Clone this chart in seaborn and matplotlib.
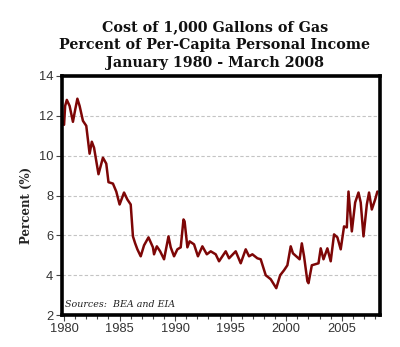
import matplotlib
matplotlib.use("Agg")
import matplotlib.pyplot as plt
import seaborn as sns
import pandas as pd
from matplotlib.ticker import MultipleLocator

years = [1980.0, 1980.1, 1980.25, 1980.5, 1980.8, 1981.0, 1981.2, 1981.4, 1981.7, 1982.0,
         1982.3, 1982.5, 1982.7, 1983.1, 1983.5, 1983.8, 1984.0, 1984.4, 1984.7, 1985.0,
         1985.4, 1985.7, 1986.0, 1986.2, 1986.4, 1986.6, 1986.9, 1987.2, 1987.6, 1988.0,
         1988.1, 1988.35, 1988.65, 1989.0, 1989.4, 1989.6, 1989.9, 1990.2, 1990.5, 1990.75,
         1990.85, 1991.1, 1991.3, 1991.7, 1992.05, 1992.45, 1992.85, 1993.2, 1993.65, 1993.95,
         1994.55, 1994.85, 1995.45, 1995.9, 1996.35, 1996.65, 1996.95, 1997.4, 1997.7, 1998.15,
         1998.6, 1999.1, 1999.45, 1999.8, 2000.1, 2000.4, 2000.6, 2000.9, 2001.2, 2001.4,
         2001.6, 2001.9, 2002.0, 2002.3, 2002.9, 2003.1, 2003.35, 2003.7, 2004.0, 2004.3,
         2004.6, 2004.9, 2005.2, 2005.45, 2005.6, 2005.9, 2006.2, 2006.5, 2006.7, 2006.95,
         2007.25, 2007.45, 2007.7, 2008.0, 2008.2]
percent = [11.55, 12.5, 12.8, 12.5, 11.7, 12.3, 12.86, 12.5, 11.75, 11.5,
           10.1, 10.7, 10.4, 9.07, 9.9, 9.6, 8.67, 8.6, 8.2, 7.55,
           8.15, 7.8, 7.55, 5.95, 5.6, 5.3, 4.95, 5.5, 5.9, 5.4,
           5.05, 5.45, 5.2, 4.8, 5.95, 5.4, 4.95, 5.3, 5.4, 6.8,
           6.7, 5.4, 5.7, 5.55, 4.95, 5.45, 5.05, 5.2, 5.05, 4.7,
           5.2, 4.85, 5.2, 4.6, 5.3, 4.95, 5.05, 4.85, 4.8, 4.0,
           3.8, 3.35, 4.0, 4.25, 4.5, 5.45, 5.1, 4.95, 4.8, 5.6,
           4.95, 3.7, 3.6, 4.5, 4.6, 5.35, 4.8, 5.35, 4.7, 6.05,
           5.9, 5.3, 6.45, 6.4, 8.2, 6.2, 7.65, 8.15, 7.65, 5.95,
           7.55, 8.15, 7.3, 7.8, 8.2]

title_lines = ["Cost of 1,000 Gallons of Gas",
               "Percent of Per-Capita Personal Income",
               "January 1980 - March 2008"]
y_ticks = [2, 4, 6, 8, 10, 12, 14]
x_ticks = [1980, 1985, 1990, 1995, 2000, 2005]

df = pd.DataFrame({"year": years, "percent": percent})

sns.set_style("white")
plt.rcParams['font.family'] = ['Liberation Sans', 'DejaVu Sans']

fig = plt.figure(figsize=(4.0, 3.47), dpi=100)
ax = fig.add_axes([0.154, 0.092, 0.795, 0.689])

sns.lineplot(data=df, x="year", y="percent", ax=ax, color="#7d0606", linewidth=1.8)

ax.set_xlim(1979.78, 2008.4)
ax.set_ylim(2, 14)
ax.set_yticks(y_ticks)
ax.set_xticks(x_ticks)
ax.xaxis.set_minor_locator(MultipleLocator(1))
for y in y_ticks[1:-1]:
    ax.axhline(y, color="#c4c4c4", linestyle=(0, (3, 2)), linewidth=0.8, zorder=0)

for s in ax.spines.values():
    s.set_visible(True)
    s.set_color("black")
    s.set_linewidth(2.6)

ax.tick_params(axis="both", which="major", direction="out", length=4, width=0.8,
               color="#444444", labelsize=9.3, labelcolor="#333333", pad=2,
               bottom=True, left=True)
ax.tick_params(axis="x", which="minor", direction="out", length=3, width=0.8,
               color="#444444", bottom=True)
ax.set_xlabel("")
ax.set_ylabel("Percent (%)", family="DejaVu Serif", fontweight="bold", fontsize=8.5)
ax.yaxis.set_label_coords(-0.09, 0.46)

ax.text(0.01, 0.025, "Sources:  BEA and EIA", transform=ax.transAxes,
        family="DejaVu Serif", style="italic", fontsize=6.8, color="#222222",
        ha="left", va="bottom")

for i, line in enumerate(title_lines):
    fig.text(0.537, 1 - (27 + 18 * i) / 347, line, ha="center", va="center",
             family="DejaVu Serif", fontweight="bold", fontsize=10.3, color="#111111")

fig.savefig("out.png", dpi=100)
